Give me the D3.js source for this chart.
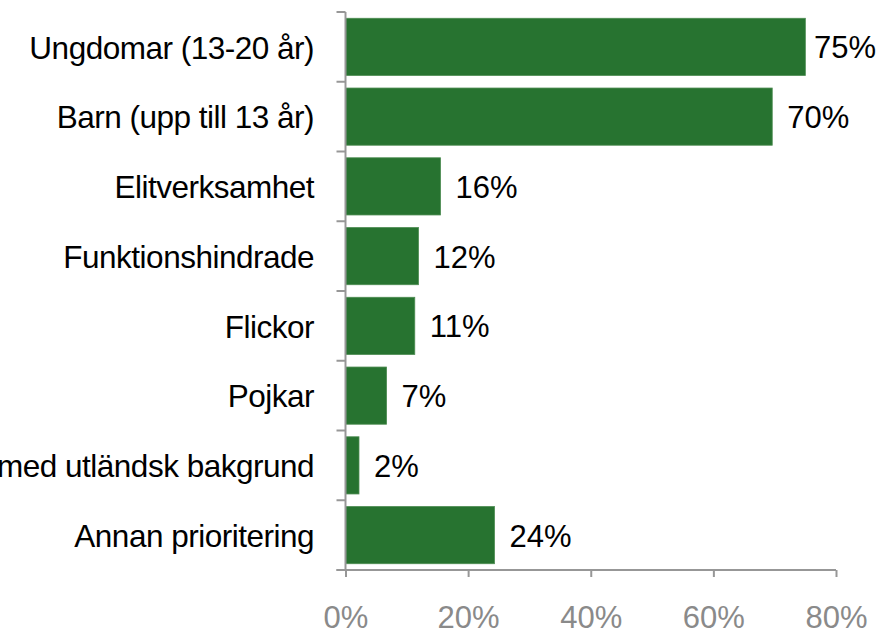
<!DOCTYPE html>
<html>
<head>
<meta charset="utf-8">
<script src="https://d3js.org/d3.v7.min.js"></script>
<style>
  body { margin: 0; background: #fff; }
  svg { display: block; font-family: "Liberation Sans", Arial, sans-serif; }
</style>
</head>
<body>
<svg id="chart"></svg>
<script>
    // Data (shares, labels rounded to whole percent)
    var categories = [
        "Ungdomar (13-20 år)",
        "Barn (upp till 13 år)",
        "Elitverksamhet",
        "Funktionshindrade",
        "Flickor",
        "Pojkar",
        "Personer med utländsk bakgrund",
        "Annan prioritering"
    ];
    var values = [0.75, 0.696, 0.155, 0.119, 0.113, 0.067, 0.022, 0.243];
    var valueLabels = ["75%", "70%", "16%", "12%", "11%", "7%", "2%", "24%"];
    var xTicks = [0, 0.2, 0.4, 0.6, 0.8];

    var width = 881, height = 631;
    var x0 = 345.5, x1 = 836, yTop = 12, yBottom = 570;

    var svg = d3.select("#chart").attr("width", width).attr("height", height);

    var x = d3.scaleLinear().domain([0, 0.8]).range([x0, x1]);
    var y = d3.scaleBand().domain(categories).range([yTop, yBottom])
        .paddingInner(0.18).paddingOuter(0.09);

    var axisColor = "#979797";

    // bars
    svg.append("g").selectAll("rect")
        .data(categories)
        .enter().append("rect")
        .attr("x", x(0))
        .attr("y", function (d) { return y(d); })
        .attr("width", function (d, i) { return x(values[i]) - x(0); })
        .attr("height", y.bandwidth())
        .style("fill", "#277330")
        .style("stroke", "#4d8c52")
        .style("stroke-width", 0.8);

    // category axis: line + ticks at band boundaries
    var bounds = d3.range(categories.length + 1).map(function (i) { return yTop + i * y.step(); });
    var ya = svg.append("g").style("stroke", axisColor).style("stroke-width", 2);
    ya.append("line").attr("x1", x0).attr("x2", x0).attr("y1", yTop).attr("y2", yBottom);
    ya.selectAll("line.t").data(bounds).enter().append("line").attr("class", "t")
        .attr("x1", x0 - 9).attr("x2", x0)
        .attr("y1", function (d) { return d; }).attr("y2", function (d) { return d; });

    svg.append("g").selectAll("text")
        .data(categories)
        .enter().append("text")
        .attr("x", 314)
        .attr("y", function (d) { return y(d) + y.bandwidth() / 2; })
        .attr("dy", "0.37em")
        .attr("text-anchor", "end")
        .style("font-size", "31.5px")
        .style("letter-spacing", "-0.5px")
        .style("fill", "#000")
        .text(function (d) { return d; });

    // value axis
    var xAxis = d3.axisBottom(x).tickValues(xTicks).tickFormat(d3.format(".0%"))
        .tickSize(7).tickSizeOuter(0);
    var xa = svg.append("g").attr("transform", "translate(0," + yBottom + ")").call(xAxis);
    xa.select(".domain").remove();
    xa.append("line").attr("x1", x0 - 9).attr("x2", x1).attr("y1", 0).attr("y2", 0)
        .style("stroke", axisColor).style("stroke-width", 2);
    xa.selectAll(".tick line").style("stroke", axisColor).style("stroke-width", 2);
    xa.selectAll(".tick text")
        .attr("dy", null)
        .attr("y", 58)
        .style("font-size", "31px")
        .style("font-family", "\"Liberation Sans\", Arial, sans-serif")
        .style("fill", "#8a8a8a");

    // value labels
    svg.append("g").selectAll("text")
        .data(categories)
        .enter().append("text")
        .attr("x", function (d, i) { return Math.min(x(values[i]) + 15, width - 67); })
        .attr("y", function (d) { return y(d) + y.bandwidth() / 2; })
        .attr("dy", "0.37em")
        .style("font-size", "31px")
        .style("fill", "#000")
        .text(function (d, i) { return valueLabels[i]; });
</script>
</body>
</html>
